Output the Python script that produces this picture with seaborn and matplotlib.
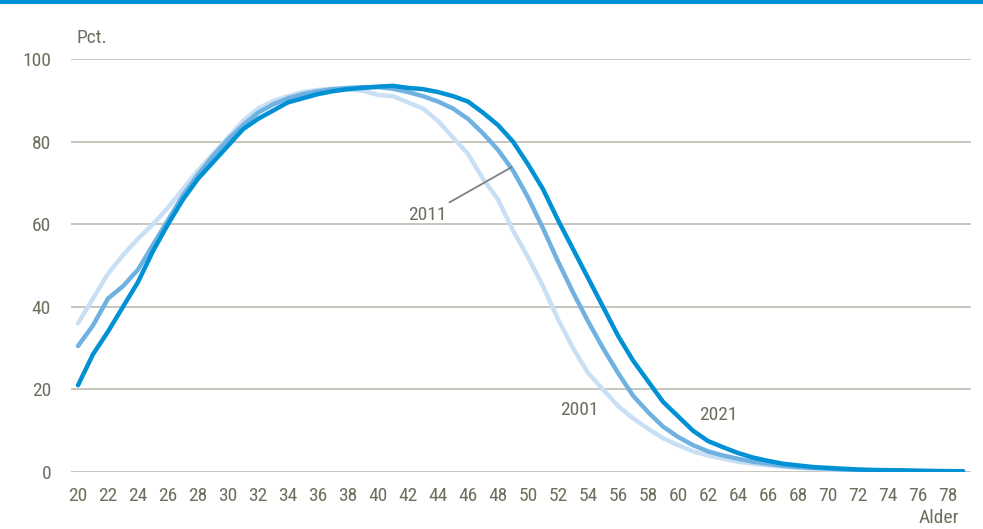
import numpy as np
import pandas as pd
import matplotlib
matplotlib.use("Agg")
import matplotlib.pyplot as plt
import seaborn as sns

ages = list(range(20, 80))

y2001 = [36, 42, 48, 52.5, 56.5, 60, 64, 68.5, 73, 77,
         81, 85, 88, 89.8, 91, 92, 92.5, 92.8, 92.6, 92.3,
         91.3, 91, 89.5, 88, 85, 81, 77, 71, 66, 58.5,
         52, 45, 37, 30, 24, 20, 16, 13, 10.5, 8.2,
         6.5, 5, 4, 3.2, 2.5, 2, 1.6, 1.3, 1.0, 0.8,
         0.6, 0.5, 0.4, 0.35, 0.3, 0.25, 0.2, 0.2, 0.15, 0.15]
y2011 = [30.5, 35.5, 42, 45, 49, 55, 61, 67, 72, 76.5,
         80.5, 84, 87, 89, 90.5, 91.5, 92.2, 92.7, 93, 93.2,
         93.2, 92.8, 92, 91, 89.7, 88, 85.5, 82, 78, 73,
         66.5, 59, 51, 43.5, 36.5, 30, 24, 18.5, 14.5, 11,
         8.5, 6.5, 5, 4, 3.2, 2.5, 2, 1.5, 1.2, 1.0,
         0.8, 0.6, 0.5, 0.4, 0.35, 0.3, 0.25, 0.2, 0.2, 0.15]
y2021 = [21, 28.5, 34, 40, 46, 53.5, 60, 66, 71, 75,
         79, 83, 85.5, 87.5, 89.5, 90.5, 91.5, 92.2, 92.7, 93,
         93.3, 93.5, 93, 92.7, 92, 91, 89.7, 87, 84, 80,
         74.5, 68.5, 61, 54, 47, 40, 33, 27, 22, 17,
         13.5, 10, 7.5, 6, 4.6, 3.5, 2.7, 2, 1.6, 1.2,
         1.0, 0.8, 0.6, 0.5, 0.45, 0.4, 0.3, 0.25, 0.2, 0.2]
years = ["2001", "2011", "2021"]
colors = ["#C8DFF4", "#6FB1E1", "#0091D5"]
x_ticks = list(range(20, 80, 2))
y_ticks = [0, 20, 40, 60, 80, 100]

df = pd.DataFrame({
    "alder": ages * 3,
    "pct": y2001 + y2011 + y2021,
    "aar": ["2001"] * len(ages) + ["2011"] * len(ages) + ["2021"] * len(ages),
})

sns.set_theme(style="white")
plt.rcParams["font.family"] = ["Roboto Condensed", "Liberation Sans", "DejaVu Sans"]
text_col = "#6E6E5E"
grid_col = "#BDBCB0"
fs = 14

fig = plt.figure(figsize=(9.83, 5.29), dpi=100)
ax = fig.add_axes([70.5 / 983, 57 / 529, 900 / 983, 413 / 529])

for y in y_ticks:
    ax.axhline(y, color=grid_col, lw=1.2, zorder=0)

sns.lineplot(data=df, x="alder", y="pct", hue="aar", hue_order=years,
             palette=colors, linewidth=3.2, legend=False, ax=ax, zorder=3)
for ln in ax.get_lines():
    ln.set_solid_capstyle("round")
    ln.set_solid_joinstyle("round")

ax.set_xlim(19.5, 79.5)
ax.set_ylim(0, 100)
ax.set_xticks(x_ticks)
ax.set_yticks(y_ticks)
ax.tick_params(axis="both", length=0, labelsize=fs, labelcolor=text_col)
ax.tick_params(axis="x", pad=11)
ax.tick_params(axis="y", pad=14)
for s in ax.spines.values():
    s.set_visible(False)
ax.set_xlabel("")
ax.set_ylabel("")

fig.text(77 / 983, 1 - 38 / 529, "Pct.", fontsize=fs, color=text_col, va="center", ha="left")
fig.text(959 / 983, 1 - 518 / 529, "Alder", fontsize=fs, color=text_col, va="center", ha="right")

ax.annotate("2011", xy=(48.9, 73.8), xytext=(44.6, 62.3), textcoords="data",
            fontsize=fs, color=text_col, ha="right", va="center",
            arrowprops=dict(arrowstyle="-", color="#7F7F7F", lw=1.3, shrinkA=0, shrinkB=0))
ax.text(53.4, 15, "2001", fontsize=fs, color=text_col, ha="center", va="center")
ax.text(62.7, 13.8, "2021", fontsize=fs, color=text_col, ha="center", va="center")

fig.add_artist(plt.Rectangle((0, 1 - 4 / 529), 1, 4 / 529, transform=fig.transFigure,
                             color="#0091D5", lw=0))

fig.savefig("out.png", dpi=100)
